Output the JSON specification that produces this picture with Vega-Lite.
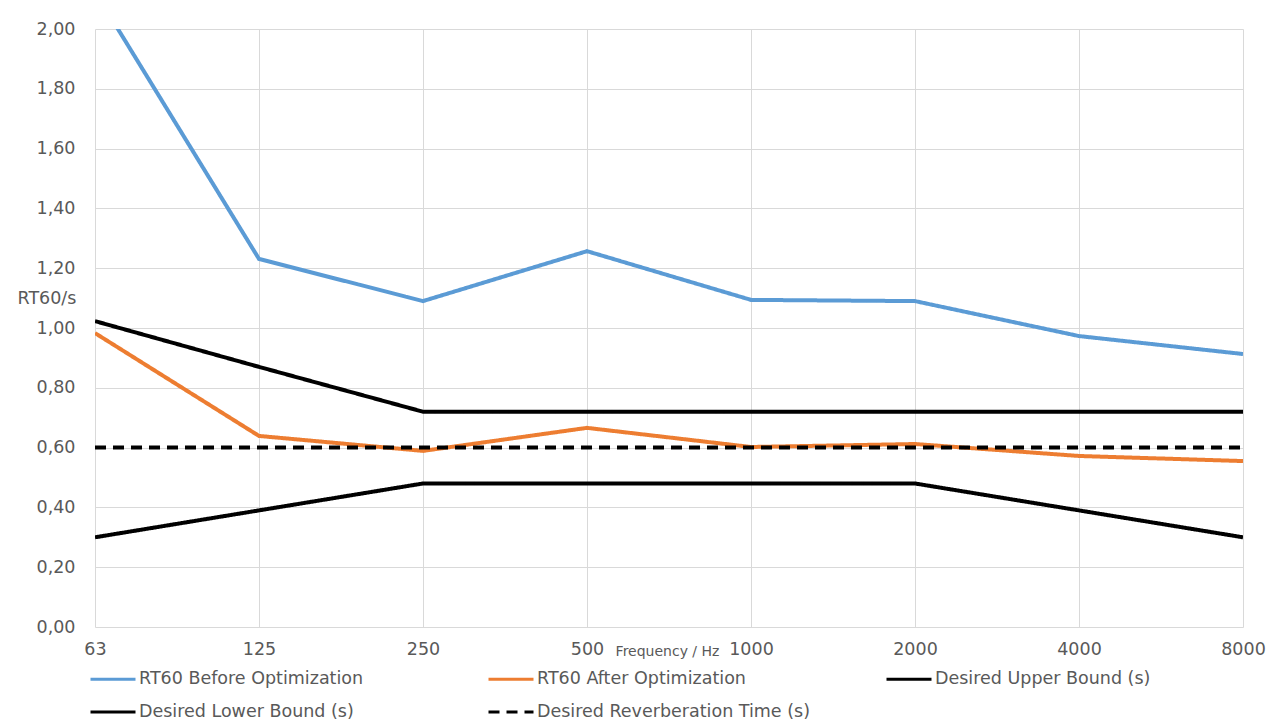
{
  "$schema": "https://vega.github.io/schema/vega-lite/v6.json",
  "autosize": "none",
  "width": 1148,
  "height": 598,
  "padding": {"left": 95, "top": 29, "right": 44, "bottom": 98},
  "background": "white",
  "config": {
    "view": {"stroke": null},
    "font": "DejaVu Sans",
    "axis": {"labelFont": "DejaVu Sans", "titleFont": "DejaVu Sans", "labelColor": "#595959", "titleColor": "#595959", "gridColor": "#D9D9D9", "gridWidth": 1, "domain": false, "ticks": false},
    "legend": {"labelFont": "DejaVu Sans", "labelColor": "#595959"}
  },
  "data": {
    "values": [
      {"freq": "63", "series": "RT60 Before Optimization", "rt": 2.125},
      {"freq": "125", "series": "RT60 Before Optimization", "rt": 1.231},
      {"freq": "250", "series": "RT60 Before Optimization", "rt": 1.09},
      {"freq": "500", "series": "RT60 Before Optimization", "rt": 1.257},
      {"freq": "1000", "series": "RT60 Before Optimization", "rt": 1.094},
      {"freq": "2000", "series": "RT60 Before Optimization", "rt": 1.09},
      {"freq": "4000", "series": "RT60 Before Optimization", "rt": 0.973},
      {"freq": "8000", "series": "RT60 Before Optimization", "rt": 0.913},
      {"freq": "63", "series": "RT60 After Optimization", "rt": 0.983},
      {"freq": "125", "series": "RT60 After Optimization", "rt": 0.639},
      {"freq": "250", "series": "RT60 After Optimization", "rt": 0.589},
      {"freq": "500", "series": "RT60 After Optimization", "rt": 0.666},
      {"freq": "1000", "series": "RT60 After Optimization", "rt": 0.602},
      {"freq": "2000", "series": "RT60 After Optimization", "rt": 0.612},
      {"freq": "4000", "series": "RT60 After Optimization", "rt": 0.572},
      {"freq": "8000", "series": "RT60 After Optimization", "rt": 0.555},
      {"freq": "63", "series": "Desired Upper Bound (s)", "rt": 1.023},
      {"freq": "125", "series": "Desired Upper Bound (s)", "rt": 0.87},
      {"freq": "250", "series": "Desired Upper Bound (s)", "rt": 0.72},
      {"freq": "500", "series": "Desired Upper Bound (s)", "rt": 0.72},
      {"freq": "1000", "series": "Desired Upper Bound (s)", "rt": 0.72},
      {"freq": "2000", "series": "Desired Upper Bound (s)", "rt": 0.72},
      {"freq": "4000", "series": "Desired Upper Bound (s)", "rt": 0.72},
      {"freq": "8000", "series": "Desired Upper Bound (s)", "rt": 0.72},
      {"freq": "63", "series": "Desired Lower Bound (s)", "rt": 0.3},
      {"freq": "125", "series": "Desired Lower Bound (s)", "rt": 0.39},
      {"freq": "250", "series": "Desired Lower Bound (s)", "rt": 0.48},
      {"freq": "500", "series": "Desired Lower Bound (s)", "rt": 0.48},
      {"freq": "1000", "series": "Desired Lower Bound (s)", "rt": 0.48},
      {"freq": "2000", "series": "Desired Lower Bound (s)", "rt": 0.48},
      {"freq": "4000", "series": "Desired Lower Bound (s)", "rt": 0.39},
      {"freq": "8000", "series": "Desired Lower Bound (s)", "rt": 0.3},
      {"freq": "63", "series": "Desired Reverberation Time (s)", "rt": 0.6},
      {"freq": "125", "series": "Desired Reverberation Time (s)", "rt": 0.6},
      {"freq": "250", "series": "Desired Reverberation Time (s)", "rt": 0.6},
      {"freq": "500", "series": "Desired Reverberation Time (s)", "rt": 0.6},
      {"freq": "1000", "series": "Desired Reverberation Time (s)", "rt": 0.6},
      {"freq": "2000", "series": "Desired Reverberation Time (s)", "rt": 0.6},
      {"freq": "4000", "series": "Desired Reverberation Time (s)", "rt": 0.6},
      {"freq": "8000", "series": "Desired Reverberation Time (s)", "rt": 0.6}
    ]
  },
  "mark": {"type": "line", "clip": true, "strokeWidth": 4, "strokeCap": "butt"},
  "encoding": {
    "x": {
      "field": "freq",
      "type": "ordinal",
      "sort": ["63", "125", "250", "500", "1000", "2000", "4000", "8000"],
      "scale": {"type": "point", "padding": 0},
      "axis": {
        "title": "Frequency / Hz",
        "titleFontSize": 14,
        "titleFontWeight": "normal",
        "titleX": 572,
        "titleY": 24,
        "titleAlign": "center",
        "titleBaseline": "middle",
        "labelAngle": 0,
        "labelFontSize": 17.5,
        "labelPadding": 13,
        "grid": true
      }
    },
    "y": {
      "field": "rt",
      "type": "quantitative",
      "scale": {"domain": [0, 2], "nice": false, "zero": true},
      "axis": {
        "title": "RT60/s",
        "titleFontSize": 17.5,
        "titleFontWeight": "normal",
        "titleAngle": 0,
        "titleX": -78,
        "titleY": 269,
        "titleAlign": "left",
        "titleBaseline": "middle",
        "values": [0, 0.2, 0.4, 0.6, 0.8, 1.0, 1.2, 1.4, 1.6, 1.8, 2.0],
        "labelExpr": "replace(format(datum.value, '.2f'), '.', ',')",
        "labelFontSize": 17.5,
        "labelPadding": 20,
        "grid": true
      }
    },
    "color": {
      "field": "series",
      "type": "nominal",
      "sort": ["RT60 Before Optimization", "RT60 After Optimization", "Desired Upper Bound (s)", "Desired Lower Bound (s)", "Desired Reverberation Time (s)"],
      "scale": {
        "domain": ["RT60 Before Optimization", "RT60 After Optimization", "Desired Upper Bound (s)", "Desired Lower Bound (s)", "Desired Reverberation Time (s)"],
        "range": ["#5B9BD5", "#ED7D31", "#000000", "#000000", "#000000"]
      },
      "legend": {
        "title": null,
        "orient": "none",
        "legendX": -6,
        "legendY": 626,
        "columns": 3,
        "direction": "horizontal",
        "gridAlign": "all",
        "columnPadding": 70,
        "rowPadding": 0,
        "symbolType": "stroke",
        "symbolSize": 2025,
        "symbolStrokeWidth": 3,
        "labelFontSize": 17.5,
        "labelOffset": 2,
        "labelLimit": 400
      }
    },
    "strokeDash": {
      "field": "series",
      "type": "nominal",
      "sort": ["RT60 Before Optimization", "RT60 After Optimization", "Desired Upper Bound (s)", "Desired Lower Bound (s)", "Desired Reverberation Time (s)"],
      "scale": {
        "domain": ["RT60 Before Optimization", "RT60 After Optimization", "Desired Upper Bound (s)", "Desired Lower Bound (s)", "Desired Reverberation Time (s)"],
        "range": [[1, 0], [1, 0], [1, 0], [1, 0], [11, 7]]
      },
      "legend": {
        "title": null,
        "orient": "none",
        "legendX": -6,
        "legendY": 626,
        "columns": 3,
        "direction": "horizontal",
        "gridAlign": "all",
        "columnPadding": 70,
        "rowPadding": 0,
        "symbolType": "stroke",
        "symbolSize": 2025,
        "symbolStrokeWidth": 3,
        "labelFontSize": 17.5,
        "labelOffset": 2,
        "labelLimit": 400
      }
    }
  }
}
